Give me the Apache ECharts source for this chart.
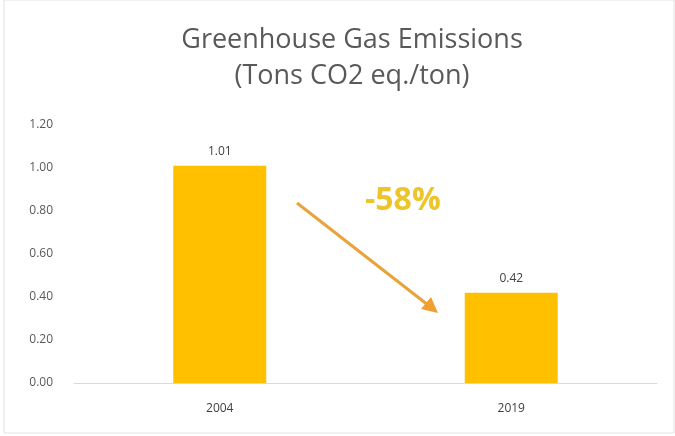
<!DOCTYPE html>
<html><head><meta charset="utf-8">
<script src="https://cdn.jsdelivr.net/npm/echarts@6/dist/echarts.min.js"></script>
<style>html,body{margin:0;padding:0;background:#fff}#c{width:675px;height:436px}</style>
</head><body><div id="c"></div>
<script>
const categories = ['2004', '2019'];
const values = [1.01, 0.42];
const yTicks = [0, 0.2, 0.4, 0.6, 0.8, 1.0, 1.2];
const titleText = 'Greenhouse Gas Emissions\n(Tons CO2 eq./ton)';
const changeLabel = '-58%';

const chart = echarts.init(document.getElementById('c'), null, {renderer: 'canvas'});
const font = 'Open Sans';
chart.setOption({
  animation: false,
  backgroundColor: '#fff',
  title: {
    text: titleText, left: 347, textAlign: 'center', top: 17,
    textStyle: {fontFamily: font, fontSize: 27, fontWeight: 'normal', color: '#595959', lineHeight: 36}
  },
  grid: {left: 74, right: 18, top: 125, bottom: 53},
  xAxis: {
    type: 'category', data: categories,
    axisLine: {lineStyle: {color: '#d9d9d9'}},
    axisTick: {show: false},
    axisLabel: {fontFamily: font, fontSize: 12, color: '#404040', margin: 20}
  },
  yAxis: {
    type: 'value', min: yTicks[0], max: yTicks[yTicks.length - 1], interval: 0.2,
    splitLine: {show: false}, axisLine: {show: false}, axisTick: {show: false},
    axisLabel: {fontFamily: font, fontSize: 12, color: '#595959', margin: 21,
      formatter: v => v.toFixed(2)}
  },
  series: [{
    type: 'bar', data: values, barWidth: 93,
    itemStyle: {color: '#FFC000'},
    label: {show: true, position: 'top', distance: 8, fontFamily: font, fontSize: 12, color: '#404040',
      formatter: p => p.value.toFixed(2)}
  }],
  graphic: [
    {type: 'rect', shape: {x: 4, y: 0, width: 670, height: 433}, style: {fill: 'none', stroke: '#e3e3e3', lineWidth: 1}, z: -1},
    {type: 'line', shape: {x1: 297, y1: 203, x2: 428, y2: 305}, style: {stroke: '#E9A33A', lineWidth: 3}},
    {type: 'polygon', shape: {points: [[438, 313], [421, 309], [431, 297]]}, style: {fill: '#F0A030'}},
    {type: 'text', left: 365, top: 185, style: {text: changeLabel, font: 'bold 32px "Open Sans"', fill: '#EDC42A'}}
  ]
});
</script></body></html>
